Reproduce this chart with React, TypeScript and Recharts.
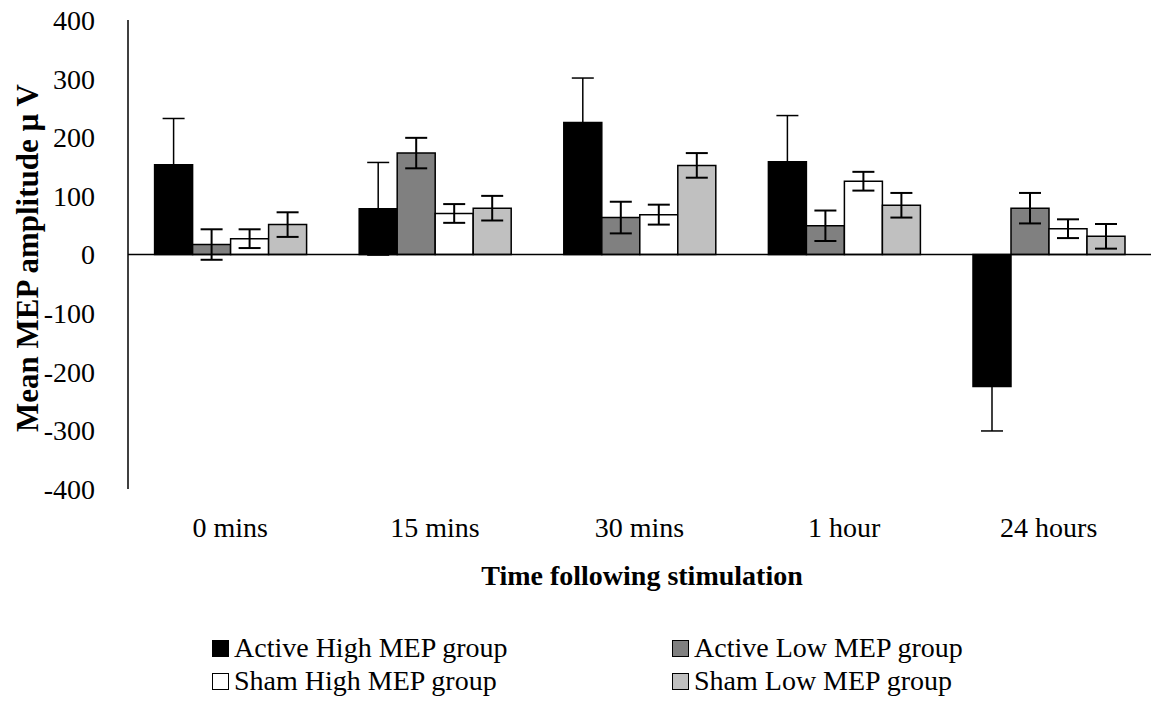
import React from 'react';
import { BarChart, Bar, XAxis, YAxis, ErrorBar, ReferenceLine } from 'recharts';

const categories = ['0 mins', '15 mins', '30 mins', '1 hour', '24 hours'];

const activeHigh = [153, 78, 225, 158, -225];
const activeHighErr = [79, 79, 76, 79, 76];
const activeLow = [17, 173, 63, 49, 79];
const activeLowErr = [26, 26, 27, 26, 26];
const shamHigh = [27, 70, 68, 125, 44];
const shamHighErr = [16, 16, 17, 16, 16];
const shamLow = [51, 79, 152, 84, 31];
const shamLowErr = [21, 21, 21, 21, 21];

const yTicks = [-400, -300, -200, -100, 0, 100, 200, 300, 400];

const data = categories.map((name, i) => ({
  name,
  ah: activeHigh[i],
  ahErr: activeHighErr[i],
  al: activeLow[i],
  alErr: activeLowErr[i],
  sh: shamHigh[i],
  shErr: shamHighErr[i],
  sl: shamLow[i],
  slErr: shamLowErr[i],
}));

const serif = '"Liberation Serif", "Times New Roman", serif';

const legendItems = [
  { label: 'Active High MEP group', fill: '#000000', left: 212, top: 648 },
  { label: 'Active Low MEP group', fill: '#808080', left: 672, top: 648 },
  { label: 'Sham High MEP group', fill: '#ffffff', left: 212, top: 681 },
  { label: 'Sham Low MEP group', fill: '#c0c0c0', left: 672, top: 681 },
];

const App: React.FC = () => {
  return (
    <div style={{ position: 'absolute', left: 0, top: 0, width: 1156, height: 702, background: '#fff', fontFamily: serif }}>
      <BarChart
        width={1156}
        height={702}
        data={data}
        margin={{ top: 20, right: 5, left: 68, bottom: 173 }}
        barCategoryGap="13%"
        barGap={0}
      >
        <XAxis
          dataKey="name"
          height={40}
          axisLine={false}
          tickLine={false}
          tickSize={0}
          tickMargin={28}
          tick={{ fontSize: 28, fill: '#000', fontFamily: serif }}
        />
        <YAxis
          width={60}
          domain={[-400, 400]}
          ticks={yTicks}
          interval={0}
          axisLine={{ stroke: '#000', strokeWidth: 1.5 }}
          tickLine={false}
          tickSize={0}
          tickMargin={33}
          tick={{ fontSize: 28, fill: '#000', fontFamily: serif }}
        />
        <ReferenceLine y={0} stroke="#000" strokeWidth={1.5} />
        <Bar dataKey="ah" fill="#000000" stroke="#000" strokeWidth={1.5} isAnimationActive={false}>
          <ErrorBar dataKey="ahErr" width={11} stroke="#000" strokeWidth={1.5} />
        </Bar>
        <Bar dataKey="al" fill="#808080" stroke="#000" strokeWidth={1.5} isAnimationActive={false}>
          <ErrorBar dataKey="alErr" width={11} stroke="#000" strokeWidth={2} />
        </Bar>
        <Bar dataKey="sh" fill="#ffffff" stroke="#000" strokeWidth={1.5} isAnimationActive={false}>
          <ErrorBar dataKey="shErr" width={11} stroke="#000" strokeWidth={2} />
        </Bar>
        <Bar dataKey="sl" fill="#c0c0c0" stroke="#000" strokeWidth={1.5} isAnimationActive={false}>
          <ErrorBar dataKey="slErr" width={11} stroke="#000" strokeWidth={2} />
        </Bar>
      </BarChart>

      <div
        style={{
          position: 'absolute',
          left: 28,
          top: 258,
          transform: 'translate(-50%, -50%) rotate(-90deg)',
          whiteSpace: 'nowrap',
          fontWeight: 'bold',
          fontSize: 31,
          lineHeight: '34px',
        }}
      >
        Mean MEP amplitude µ V
      </div>
      <div
        style={{
          position: 'absolute',
          left: 642,
          top: 576,
          transform: 'translate(-50%, -50%)',
          whiteSpace: 'nowrap',
          fontWeight: 'bold',
          fontSize: 28,
          lineHeight: '32px',
        }}
      >
        Time following stimulation
      </div>

      {legendItems.map((it) => (
        <div
          key={it.label}
          style={{
            position: 'absolute',
            left: it.left,
            top: it.top,
            transform: 'translateY(-50%)',
            display: 'flex',
            alignItems: 'center',
            whiteSpace: 'nowrap',
            fontSize: 28,
            lineHeight: '32px',
          }}
        >
          <span
            style={{
              display: 'inline-block',
              width: 15,
              height: 15,
              background: it.fill,
              border: '1.5px solid #000',
              marginRight: 5,
            }}
          />
          {it.label}
        </div>
      ))}
    </div>
  );
};

export default App;
